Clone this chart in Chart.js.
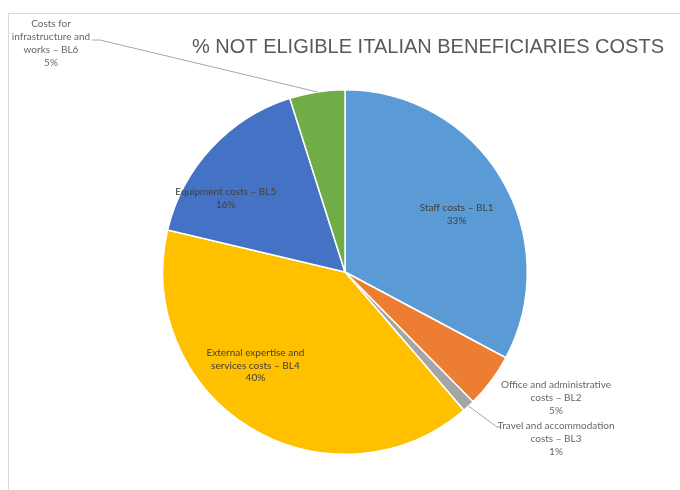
<!DOCTYPE html>
<html>
<head>
<meta charset="utf-8">
<script src="https://cdn.jsdelivr.net/npm/chart.js@4.4.1/dist/chart.umd.min.js"></script>
<style>
  html, body { margin: 0; padding: 0; background: #ffffff; }
  #wrap { width: 680px; height: 490px; position: relative; }
</style>
</head>
<body>
<div id="wrap"><canvas id="pieChart"></canvas></div>
<script>
// cost categories, split over lines the way the labels are printed
var categories = [
  ["Staff costs \u2013 BL1"],
  ["Office and administrative", "costs \u2013 BL2"],
  ["Travel and accommodation", "costs \u2013 BL3"],
  ["External expertise and", "services costs \u2013 BL4"],
  ["Equipment costs \u2013 BL5"],
  ["Costs for", "infrastructure and", "works \u2013 BL6"]
];
var shares = [32.8, 4.8, 1.1, 40.0, 16.4, 4.9];
var sliceColors = ["#5B9BD5", "#ED7D31", "#A5A5A5", "#FFC000", "#4472C4", "#70AD47"];
var chartTitle = "% NOT ELIGIBLE ITALIAN BENEFICIARIES COSTS";

// label placement: inside labels are polar (angle shift in degrees, radius fraction),
// outside ones get a fixed text anchor and an optional leader line
var labelPlace = [
  { inside: true, shift: 3.5, r: 0.69 },
  { inside: false, x: 556, y: 385 },
  { inside: false, x: 556, y: 426, leader: [[497, 427], [501, 427]] },
  { inside: true, shift: 12.5, r: 0.71 },
  { inside: true, shift: -11, r: 0.77 },
  { inside: false, x: 51, y: 24, leader: [[100, 40], [92, 40]] }
];

var labelFont = "10px Lato";
var lineGap = 12.8;

var frame = {
  id: "frame",
  beforeDraw: function (chart) {
    var ctx = chart.ctx;
    ctx.save();
    ctx.strokeStyle = "#d9d9d9";
    ctx.lineWidth = 1;
    ctx.strokeRect(8.5, 13.5, 700, 500);
    ctx.fillStyle = "#595959";
    ctx.font = "20px 'Liberation Sans'";
    ctx.textAlign = "center";
    ctx.textBaseline = "middle";
    ctx.fillText(chartTitle, 428, 47);
    ctx.restore();
  }
};

var sliceLabels = {
  id: "sliceLabels",
  afterDatasetsDraw: function (chart) {
    var ctx = chart.ctx;
    var arcs = chart.getDatasetMeta(0).data;
    ctx.save();
    ctx.font = labelFont;
    ctx.textAlign = "center";
    ctx.textBaseline = "middle";
    arcs.forEach(function (arc, i) {
      var p = arc.getProps(["x", "y", "startAngle", "endAngle", "outerRadius"], true);
      var mid = (p.startAngle + p.endAngle) / 2;
      var lines = categories[i].concat([Math.round(shares[i]) + "%"]);
      var place = labelPlace[i];
      var lx, ly;
      if (place.inside) {
        var a = mid + place.shift * Math.PI / 180;
        lx = p.x + Math.cos(a) * p.outerRadius * place.r;
        ly = p.y + Math.sin(a) * p.outerRadius * place.r - (lines.length - 1) * lineGap / 2;
        ctx.fillStyle = "#404040";
      } else {
        lx = place.x;
        ly = place.y;
        ctx.fillStyle = "#666666";
        if (place.leader) {
          ctx.beginPath();
          ctx.strokeStyle = "#a6a6a6";
          ctx.lineWidth = 1;
          ctx.moveTo(p.x + Math.cos(mid) * p.outerRadius, p.y + Math.sin(mid) * p.outerRadius);
          place.leader.forEach(function (pt) { ctx.lineTo(pt[0], pt[1]); });
          ctx.stroke();
        }
      }
      lines.forEach(function (t, k) {
        ctx.fillText(t, lx, ly + k * lineGap);
      });
    });
    ctx.restore();
  }
};

new Chart(document.getElementById("pieChart"), {
  type: "pie",
  data: {
    labels: categories.map(function (c) { return c.join(" "); }),
    datasets: [{
      data: shares,
      backgroundColor: sliceColors,
      borderColor: "#ffffff",
      borderWidth: 1.5
    }]
  },
  options: {
    responsive: true,
    maintainAspectRatio: false,
    animation: false,
    layout: { padding: { top: 89, bottom: 35, left: 162, right: 152 } },
    plugins: {
      legend: { display: false },
      tooltip: { enabled: false }
    }
  },
  plugins: [frame, sliceLabels]
});
</script>
</body>
</html>
